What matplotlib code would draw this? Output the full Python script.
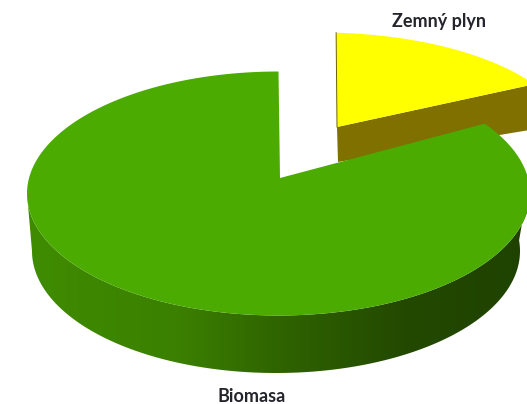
import matplotlib
matplotlib.use("Agg")
import matplotlib.pyplot as plt
import numpy as np
from matplotlib.colors import LinearSegmentedColormap
from matplotlib.patches import Polygon

# data
labels = ["Zemný plyn", "Biomasa"]
values = [15.3, 84.7]

# look of the slices, in pixels of the picture
top_colors = ["#ffff00", "#4bab00"]
wall_yellow = "#7f7000"
side_cmap = LinearSegmentedColormap.from_list(
    "side", [(0, "#3f8c00"), (0.3, "#3b8000"), (0.5, "#2f6400"), (0.75, "#234900"), (1, "#1f4200")])

fig = plt.figure(figsize=(5.27, 4.04), dpi=100)
ax = fig.add_axes([0, 0, 1, 1])
ax.set_xlim(0, 527)
ax.set_ylim(404, 0)
ax.axis("off")


def arc(cx, cy, rx, ry, t0, t1, n=200):
    t = np.radians(np.linspace(t0, t1, n))
    return cx + rx * np.cos(t), cy - ry * np.sin(t)


sweeps = [v / sum(values) * 360 for v in values]

# Zemny plyn: starts near 12 o'clock and runs clockwise
start_y = 86.3
ax_y, ay_y = 337, 127
x, y = arc(320, 140, 250, 107.5, start_y, start_y - sweeps[0])
depth_y = 45
# cut wall under the front edge
ax.fill([ax_y, x[-1], x[-1], ax_y + 1], [ay_y, y[-1], y[-1] + depth_y, ay_y + 35],
        color=wall_yellow, lw=0, zorder=1)
ax.fill(np.r_[ax_y, x], np.r_[ay_y, y], color=top_colors[0], lw=0, zorder=2)
ax.plot([ax_y, x[0]], [ay_y, y[0]], color="#6b6400", lw=0.7, zorder=3)

# Biomasa: the rest of the circle, going on from the end of the other slice
cx, cy, rx, ry = 278.5, 193.5, 251.5, 122
bx, by, brx, bry = 276, 251, 244, 122
tx, ty = arc(cx, cy, rx, ry, 180, 365, 240)
ux, uy = arc(bx, by, brx, bry, 180, 365, 240)
side_outline = Polygon(np.c_[np.r_[tx, ux[::-1]], np.r_[ty, uy[::-1]]], closed=True,
                       fc="none", ec="none", transform=ax.transData)
ax.add_patch(side_outline)
grad = ax.imshow(np.linspace(0, 1, 256).reshape(1, -1), cmap=side_cmap, aspect="auto",
                 extent=[tx.min(), tx.max(), 404, 0], zorder=4, interpolation="bilinear")
grad.set_clip_path(side_outline)
ax.set_xlim(0, 527)
ax.set_ylim(404, 0)

x, y = arc(cx, cy, rx, ry, 90, 90 + sweeps[1])
ax.fill(np.r_[280, x], np.r_[178, y], color=top_colors[1], lw=0, zorder=5)

# labels
ax.text(439, 21, labels[0], ha="center", va="center", fontsize=13, fontweight="bold",
        family="Lato", color="#24242c", zorder=6)
ax.text(252, 397, labels[1], ha="center", va="center", fontsize=13, fontweight="bold",
        family="Lato", color="#24242c", zorder=6)

plt.savefig("out.png", dpi=100)
